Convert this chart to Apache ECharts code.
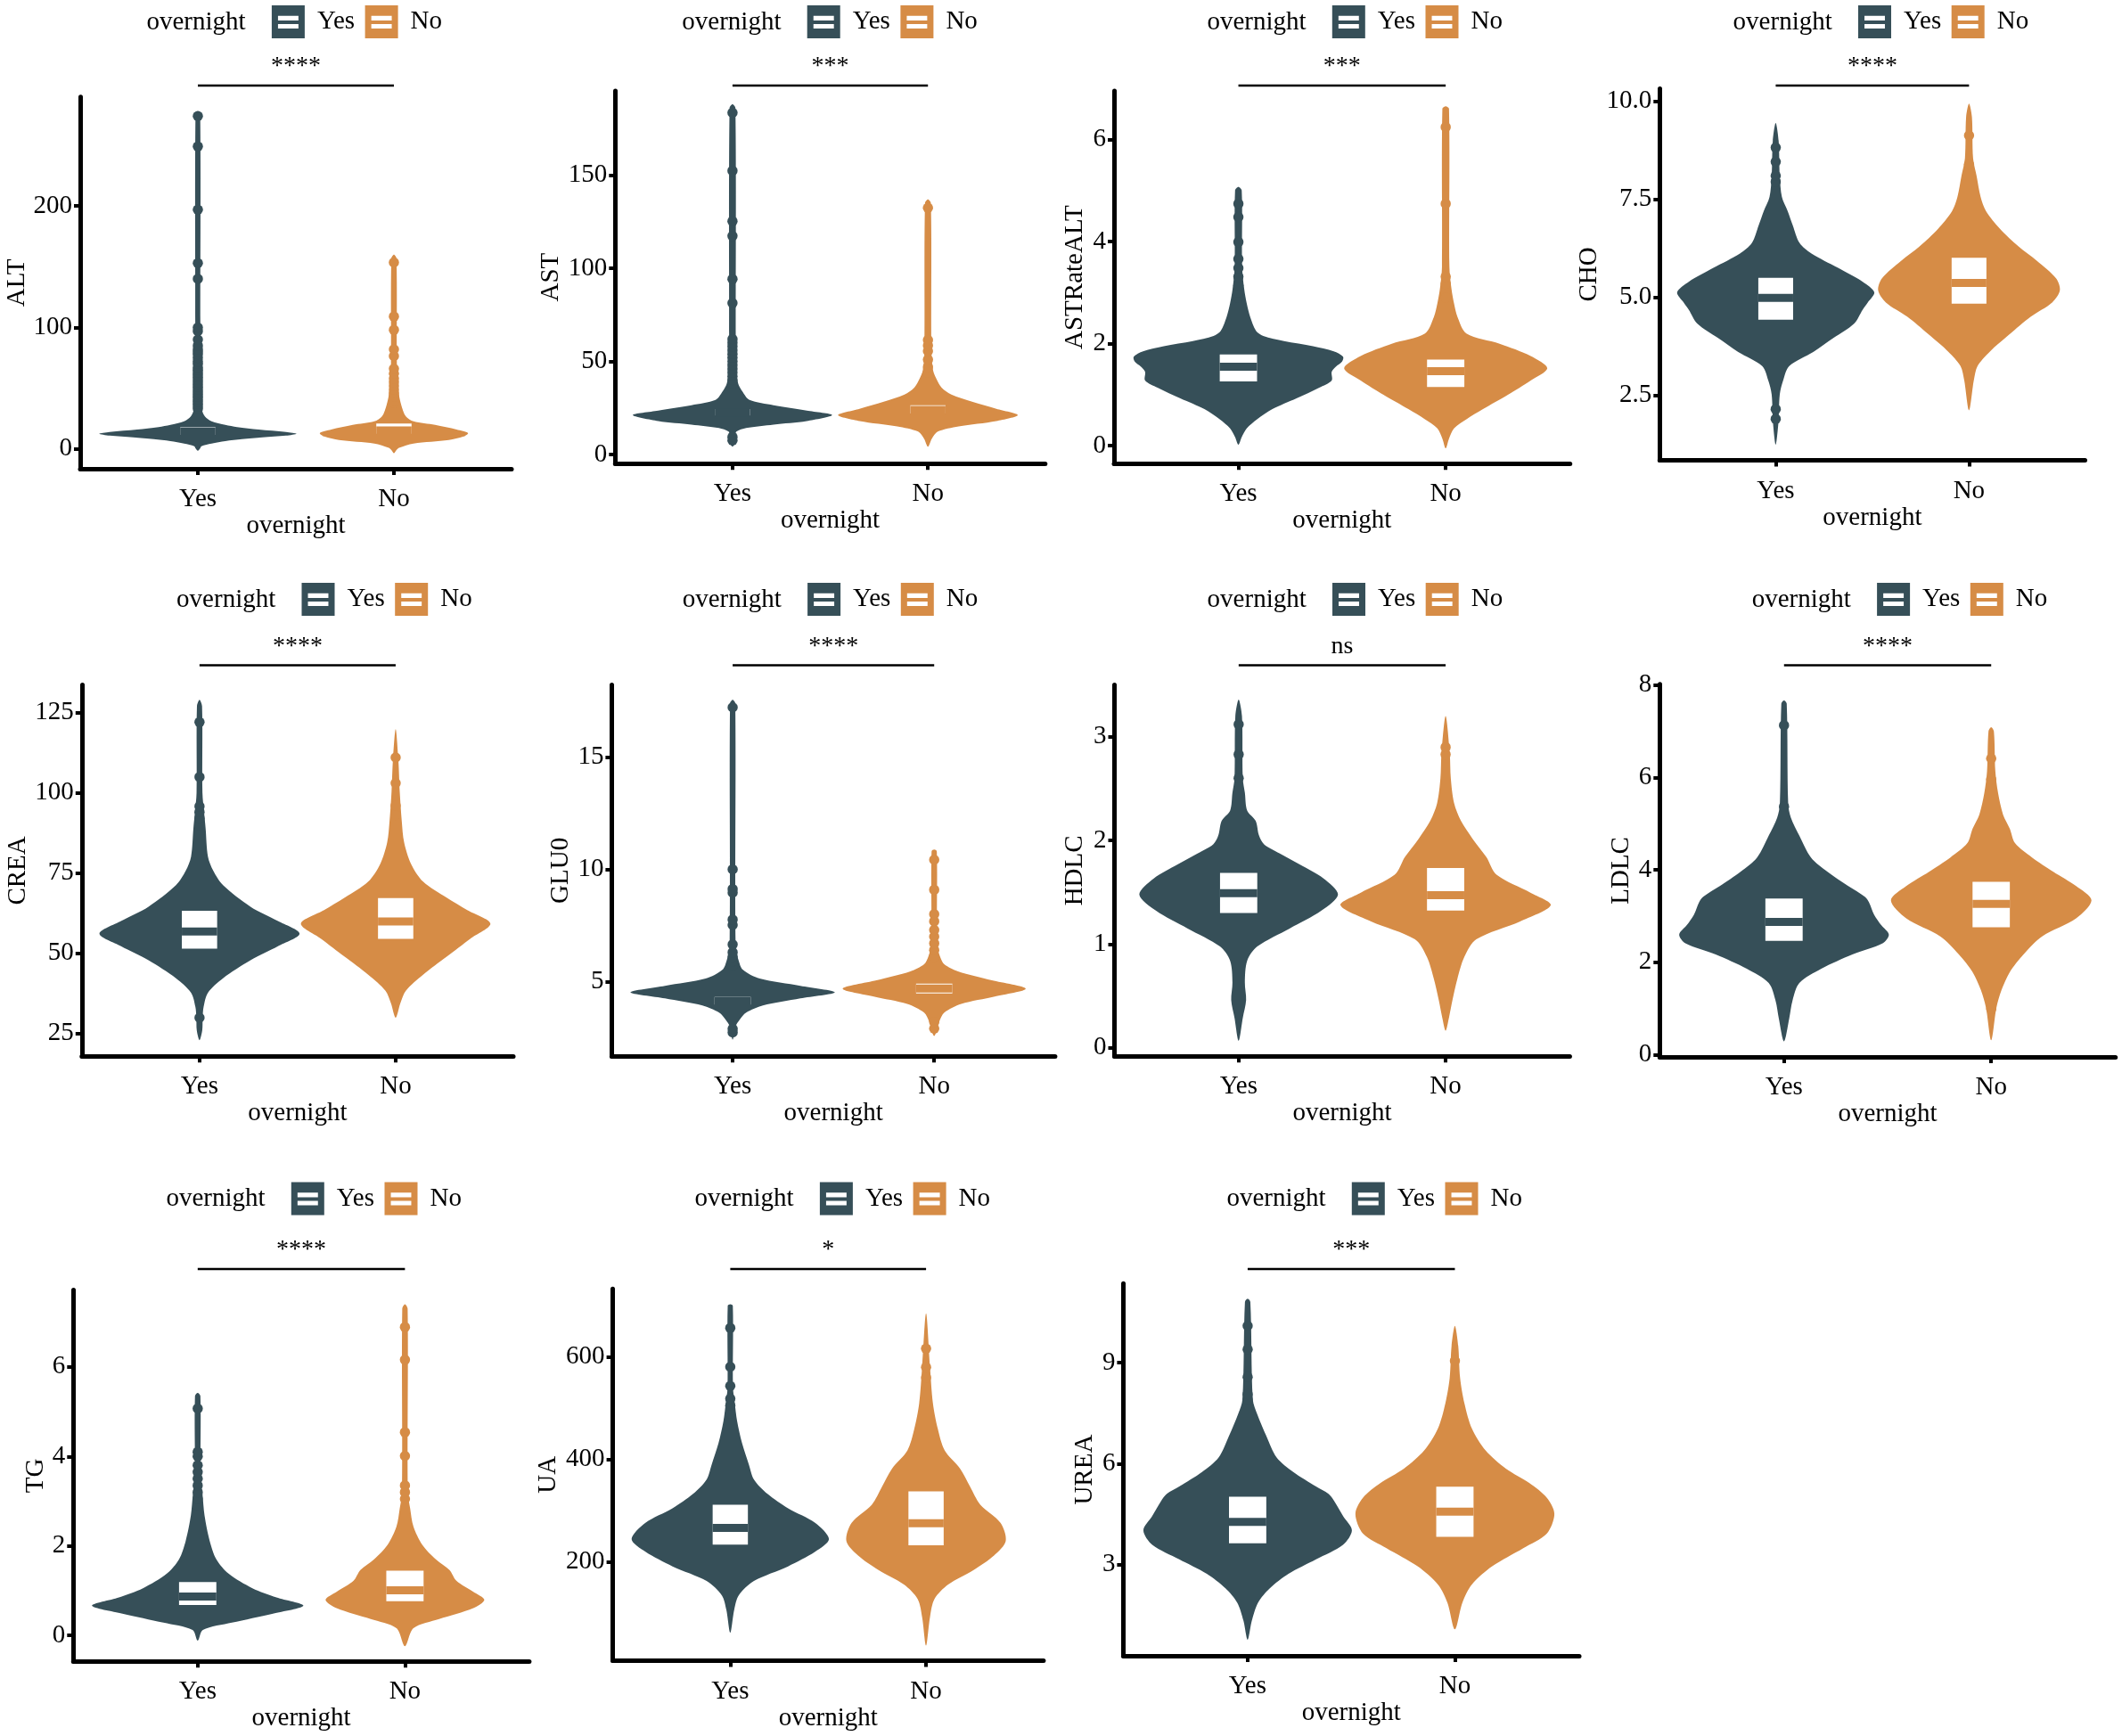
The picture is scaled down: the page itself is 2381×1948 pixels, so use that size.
<!DOCTYPE html>
<html>
<head>
<meta charset="utf-8">
<script src="https://cdn.jsdelivr.net/npm/echarts@6/dist/echarts.min.js"></script>
<style>
html, body { margin: 0; padding: 0; background: #fff; }
#chart { width: 2381px; height: 1948px; }
</style>
</head>
<body>
<div id="chart"></div>
<script>
// ---- data ----
var groups = ['Yes', 'No'];
var panelNames = ['ALT', 'AST', 'ASTRateALT', 'CHO', 'CREA', 'GLU0', 'HDLC', 'LDLC', 'TG', 'UA', 'UREA'];
var sigLabels = ['****', '***', '***', '****', '****', '****', 'ns', '****', '****', '*', '***'];
var yTicks = [[0, 100, 200], [0, 50, 100, 150], [0, 2, 4, 6], [2.5, 5, 7.5, 10], [25, 50, 75, 100, 125],
  [5, 10, 15], [0, 1, 2, 3], [0, 2, 4, 6, 8], [0, 2, 4, 6], [200, 400, 600], [3, 6, 9]];
var yRanges = [[-16.3, 289.8], [-4.9, 195.2], [-0.35, 6.95], [0.85, 10.32], [17.9, 133.6],
  [1.67, 18.22], [-0.08, 3.5], [-0.05, 8.02], [-0.58, 7.72], [7.6, 732.9], [0.29, 11.35]];

// violin outline: [value, half width in category units], bottom to top
var yesShapes = [
  [[-1.5,0],[0.5,0.012],[2.3,0.018],[4.4,0.07],[6.5,0.14],[8.1,0.225],[9.6,0.33],[11.0,0.45],[12.5,0.503],[14.0,0.45],[16.0,0.31],[18,0.2],[19.8,0.14],[22.7,0.07],[27.0,0.035],[32.8,0.02],[45,0.015],[100,0.013],[276,0.012],[278,0]],
  [[4.2,0],[6,0.012],[10,0.015],[12.3,0.02],[14.2,0.07],[16.1,0.21],[18.0,0.38],[21.2,0.51],[23.6,0.38],[26.5,0.21],[29.3,0.087],[34,0.05],[37.8,0.03],[45,0.018],[60,0.017],[186,0.015],[188,0]],
  [[0.02,0],[0.17,0.016],[0.34,0.04],[0.52,0.09],[0.72,0.164],[0.93,0.28],[1.14,0.39],[1.28,0.45],[1.45,0.45],[1.55,0.47],[1.65,0.5],[1.745,0.505],[1.85,0.46],[1.95,0.36],[2.05,0.22],[2.15,0.12],[2.25,0.085],[2.52,0.057],[2.79,0.04],[3.07,0.028],[3.5,0.018],[5.0,0.016],[5.07,0]],
  [[1.25,0],[1.81,0.014],[2.53,0.021],[2.89,0.039],[3.25,0.07],[3.61,0.194],[3.97,0.30],[4.33,0.405],[4.69,0.45],[4.87,0.476],[5.13,0.51],[5.40,0.45],[5.76,0.32],[6.12,0.185],[6.39,0.123],[6.84,0.088],[7.2,0.062],[7.56,0.032],[8.1,0.021],[9.0,0.015],[9.45,0]],
  [[22.9,0],[26,0.014],[30,0.016],[33.3,0.021],[37.7,0.043],[42.2,0.12],[47.8,0.26],[52.2,0.40],[56.1,0.51],[60,0.40],[64.5,0.26],[71.2,0.12],[75.7,0.07],[80.1,0.043],[89,0.031],[93.5,0.024],[100,0.015],[127,0.013],[129,0]],
  [[2.41,0],[3.0,0.014],[3.29,0.034],[3.61,0.067],[3.93,0.15],[4.25,0.336],[4.52,0.507],[4.81,0.336],[5.13,0.134],[5.53,0.05],[5.93,0.03],[6.5,0.015],[17.4,0.013],[17.56,0]],
  [[0.07,0],[0.29,0.02],[0.46,0.036],[0.63,0.03],[0.84,0.041],[0.978,0.09],[1.151,0.246],[1.324,0.40],[1.48,0.48],[1.635,0.41],[1.77,0.295],[1.877,0.197],[1.963,0.123],[2.05,0.098],[2.19,0.082],[2.29,0.041],[2.46,0.03],[2.6,0.02],[3.2,0.016],[3.36,0]],
  [[0.29,0],[0.78,0.025],[1.17,0.041],[1.55,0.074],[1.86,0.18],[2.17,0.33],[2.41,0.476],[2.60,0.506],[2.8,0.47],[3.03,0.435],[3.3,0.41],[3.42,0.39],[3.65,0.31],[3.96,0.21],[4.27,0.13],[4.74,0.074],[5.13,0.033],[5.44,0.02],[7.6,0.013],[7.67,0]],
  [[-0.12,0],[0.12,0.025],[0.284,0.165],[0.487,0.363],[0.665,0.51],[0.85,0.38],[1.054,0.264],[1.38,0.149],[1.70,0.09],[2.11,0.058],[2.68,0.033],[3.16,0.023],[3.5,0.014],[5.35,0.013],[5.42,0]],
  [[62,0],[106.5,0.02],[134.9,0.043],[163,0.121],[191.5,0.295],[219.8,0.433],[244.6,0.504],[276.5,0.433],[304.8,0.295],[333,0.19],[361,0.121],[390,0.095],[432,0.06],[474.7,0.035],[510,0.023],[540,0.014],[700,0.013],[703,0]],
  [[0.77,0],[1.33,0.02],[1.87,0.05],[2.3,0.107],[2.73,0.197],[3.16,0.33],[3.59,0.46],[4.02,0.503],[4.45,0.46],[4.885,0.418],[5.1,0.39],[5.32,0.33],[5.75,0.22],[6.18,0.14],[6.82,0.09],[7.47,0.046],[7.9,0.025],[10.8,0.013],[10.9,0]]
];
var noShapes = [
  [[-3.5,0],[-1,0.012],[0.9,0.026],[4.4,0.10],[7.3,0.28],[10.2,0.355],[13.1,0.378],[16.0,0.32],[19.8,0.21],[22.7,0.10],[27,0.06],[35.8,0.038],[44.5,0.026],[56,0.02],[70,0.015],[157,0.013],[160,0]],
  [[4.2,0],[8.5,0.02],[12.3,0.05],[15.1,0.157],[18,0.35],[21.2,0.46],[24.6,0.35],[28.4,0.226],[32.2,0.12],[35.9,0.07],[40.7,0.043],[45.4,0.026],[55,0.018],[135,0.015],[137,0]],
  [[-0.05,0],[0.14,0.016],[0.34,0.04],[0.52,0.1],[0.72,0.18],[1.0,0.3],[1.28,0.41],[1.52,0.49],[1.76,0.41],[2.0,0.26],[2.2,0.1],[2.52,0.057],[2.79,0.04],[3.07,0.028],[3.5,0.018],[6.6,0.016],[6.65,0]],
  [[2.12,0],[2.89,0.025],[3.25,0.044],[3.61,0.106],[4.06,0.21],[4.51,0.32],[4.87,0.43],[5.18,0.47],[5.49,0.45],[5.94,0.35],[6.3,0.256],[6.75,0.16],[7.2,0.088],[7.56,0.06],[8.1,0.039],[8.55,0.021],[9.6,0.015],[9.94,0]],
  [[29.9,0],[34.4,0.024],[38.3,0.052],[43.3,0.14],[48.9,0.26],[54.5,0.38],[59.2,0.483],[63.4,0.365],[67.3,0.26],[72.3,0.14],[77.9,0.078],[84.6,0.043],[91.3,0.031],[100.2,0.021],[110,0.014],[119.8,0]],
  [[2.57,0],[3.21,0.025],[3.61,0.05],[4.0,0.134],[4.33,0.30],[4.68,0.454],[5.05,0.286],[5.45,0.118],[5.77,0.05],[6.09,0.03],[6.6,0.015],[10.8,0.013],[10.88,0]],
  [[0.166,0],[0.29,0.016],[0.46,0.033],[0.667,0.057],[0.875,0.09],[1.047,0.148],[1.22,0.36],[1.376,0.508],[1.497,0.41],[1.67,0.246],[1.84,0.197],[2.015,0.131],[2.19,0.074],[2.36,0.041],[2.6,0.025],[2.84,0.02],[3.2,0]],
  [[0.31,0],[1.01,0.025],[1.4,0.05],[1.79,0.09],[2.17,0.156],[2.56,0.246],[2.95,0.41],[3.34,0.484],[3.65,0.41],[3.96,0.30],[4.27,0.197],[4.58,0.115],[4.89,0.09],[5.2,0.057],[5.67,0.033],[6.14,0.02],[7.0,0.013],[7.09,0]],
  [[-0.24,0],[0.16,0.041],[0.365,0.165],[0.61,0.33],[0.795,0.383],[0.973,0.33],[1.22,0.248],[1.46,0.215],[1.70,0.149],[2.03,0.083],[2.43,0.041],[2.84,0.025],[3.2,0.014],[7.3,0.013],[7.4,0]],
  [[37,0],[92.4,0.02],[127.8,0.043],[156,0.113],[184.4,0.243],[212.7,0.347],[241,0.407],[276.5,0.38],[311.9,0.277],[347,0.225],[382.7,0.173],[418,0.095],[460,0.06],[510,0.035],[581,0.02],[685,0]],
  [[1.08,0],[1.87,0.036],[2.41,0.082],[2.95,0.18],[3.49,0.33],[3.92,0.443],[4.51,0.48],[4.99,0.443],[5.42,0.36],[5.85,0.246],[6.39,0.148],[7.04,0.082],[7.79,0.046],[8.55,0.025],[9.5,0.016],[10.09,0]]
];

// single points drawn on top of the violins
var yesOutliers = [
  [33,35,37,39,41,43,45,47,49,51,53,55,57,59,61,63,65,67,70,72,75,78,80,82,85,90,97,100,140,153,197,249,274],
  [7.6,9.5,38,40,42,44,46,48,50,52,54,56,58,60,62,81.3,94.2,117.3,125.2,152.3,183.5],
  [2.9,3.0,3.14,3.31,3.48,3.66,3.99,4.48,4.74],
  [1.9,2.15,7.95,8.1,8.46,8.82],
  [29.9,90,92,94,95.8,104.9,122],
  [2.73,2.89,5.7,5.9,6.1,6.3,6.65,7.52,7.76,8.96,9.12,10.0,17.22],
  [2.6,2.83,3.12],
  [5.37,7.13],
  [2.9,3.05,3.2,3.35,3.5,3.65,3.8,4.0,4.1,5.07],
  [490,505,518.6,543.4,580.9,656.6],
  [7.9,8.06,8.57,9.39,10.09]
];
var noOutliers = [
  [38,40,43,46,49,52,55,58,62,66,76.5,82,98,109,153.5],
  [44,47,51,55.5,58.5,61.5,132.4],
  [2.9,3.17,3.31,4.74,6.24],
  [8.39,9.13],
  [93,96,103,111],
  [2.9,3.2,6.1,6.4,6.7,7.0,7.3,7.68,8.0,9.09,10.43],
  [2.83,2.9],
  [0.99,5.96,6.41],
  [3.05,3.2,3.35,4.01,4.54,6.16,6.89],
  [560,580,616.3],
  [9.05]
];

// boxes: [q1, median, q3]
var yesBoxes = [[11.5,14.1,17.8],[21,22.6,24.4],[1.26,1.55,1.79],[4.43,4.99,5.50],[51.45,56.8,63.2],[3.97,4.12,4.31],
  [1.30,1.493,1.687],[2.462,2.874,3.379],[0.681,0.868,1.192],[234,266.5,311.9],[3.636,4.271,5.014]];
var noBoxes = [[12.5,15.3,20.9],[22.0,23.9,26.4],[1.15,1.46,1.69],[4.84,5.37,6.01],[54.5,59.9,67.2],[4.47,4.69,4.91],
  [1.324,1.473,1.735],[2.757,3.262,3.744],[0.762,1.006,1.444],[232.6,275.8,338],[3.829,4.573,5.316]];

// ---- layout ----
var FONT = '"Liberation Serif", "Times New Roman", serif';
var FS = 29;
var COLORS = ['#364f58', '#d68c46'];
var BOX_HALF = 0.09;
var MEDIAN_PX = 9;
var ICON = 'path://M0,0H100V100H0Z M19,32V46H81V32Z M19,57V70H81V57Z';
// grid edges (px), legend centre, row, distance of y title from axis
var layout = [
  {l: 90, t: 108.7, r: 574, b: 526, lx: 329, row: 0, yd: 71.5},
  {l: 690.3, t: 102, r: 1172.8, b: 520.3, lx: 929.8, row: 0, yd: 73.5},
  {l: 1250, t: 102, r: 1761.7, b: 520.3, lx: 1518.9, row: 0, yd: 46},
  {l: 1862.3, t: 99.6, r: 2339.5, b: 516.4, lx: 2109.1, row: 0, yd: 81},
  {l: 91.8, t: 768.6, r: 576, b: 1185.2, lx: 362.6, row: 1, yd: 73.4},
  {l: 686.4, t: 768.6, r: 1183.9, b: 1185.2, lx: 930.2, row: 1, yd: 59.3},
  {l: 1250.5, t: 768.6, r: 1761.4, b: 1185.2, lx: 1519.1, row: 1, yd: 46},
  {l: 1862.3, t: 767.8, r: 2373.7, b: 1186, lx: 2130.2, row: 1, yd: 45.2},
  {l: 82.3, t: 1447.5, r: 593.9, b: 1864.2, lx: 350.9, row: 2, yd: 44},
  {l: 687.6, t: 1446.3, r: 1170.9, b: 1863.4, lx: 944, row: 2, yd: 73.9},
  {l: 1260.4, t: 1440.2, r: 1772, b: 1858.1, lx: 1540.9, row: 2, yd: 45.2}
];
var rowLegendTop = [6, 654, 1326.5];
var rowBracketY = [96, 746.5, 1424];

function makeViolin(shape, color) {
  return function (params, api) {
    var xc = api.value(0);
    var pts = [];
    for (var i = 0; i < shape.length; i++) {
      pts.push(api.coord([xc + shape[i][1], shape[i][0]]));
    }
    for (var j = shape.length - 2; j >= 1; j--) {
      pts.push(api.coord([xc - shape[j][1], shape[j][0]]));
    }
    return {type: 'polygon', shape: {points: pts, smooth: 0.3}, style: {fill: color}};
  };
}

function makeBox(color) {
  return function (params, api) {
    var xc = api.value(0);
    var top = api.coord([xc - BOX_HALF, api.value(3)]);
    var bot = api.coord([xc + BOX_HALF, api.value(1)]);
    var med = api.coord([xc, api.value(2)]);
    var w = bot[0] - top[0];
    return {type: 'group', children: [
      {type: 'rect', shape: {x: top[0], y: top[1], width: w, height: bot[1] - top[1]}, style: {fill: '#fff'}},
      {type: 'rect', shape: {x: top[0], y: med[1] - MEDIAN_PX / 2, width: w, height: MEDIAN_PX}, style: {fill: color}}
    ]};
  };
}

function makeBracket(i) {
  return function (params, api) {
    var yLine = rowBracketY[layout[i].row];
    var x1 = api.coord([api.value(0), yRanges[i][0]])[0];
    var x2 = api.coord([api.value(1), yRanges[i][0]])[0];
    return {type: 'group', children: [
      {type: 'line', shape: {x1: x1, y1: yLine, x2: x2, y2: yLine}, style: {stroke: '#000', lineWidth: 2.4}},
      {type: 'text', style: {text: sigLabels[i], x: (x1 + x2) / 2, y: yLine - 21, align: 'center',
        verticalAlign: 'middle', font: '28px ' + FONT, fill: '#000'}}
    ]};
  };
}

var option = {animation: false, grid: [], xAxis: [], yAxis: [], legend: [], title: [], series: []};

panelNames.forEach(function (name, i) {
  var L = layout[i];
  var dec = yTicks[i].some(function (v) { return v % 1 !== 0; }) ? 1 : 0;
  option.grid.push({left: L.l, top: L.t, width: L.r - L.l, height: L.b - L.t});
  option.xAxis.push({
    type: 'value', gridIndex: i, min: 0.4, max: 2.6,
    axisLine: {show: true, onZero: false, lineStyle: {color: '#000', width: 5}},
    axisTick: {show: true, customValues: [1, 2], length: 7, lineStyle: {color: '#000', width: 4}},
    axisLabel: {customValues: [1, 2], margin: 20, fontSize: FS, fontFamily: FONT, color: '#000',
      formatter: function (v) { return groups[Math.round(v) - 1]; }},
    splitLine: {show: false},
    name: 'overnight', nameLocation: 'middle', nameGap: 50,
    nameTextStyle: {fontSize: FS, fontFamily: FONT, color: '#000'}
  });
  option.yAxis.push({
    type: 'value', gridIndex: i, min: yRanges[i][0], max: yRanges[i][1],
    axisLine: {show: true, onZero: false, lineStyle: {color: '#000', width: 5}},
    axisTick: {show: true, customValues: yTicks[i], length: 7, lineStyle: {color: '#000', width: 4}},
    axisLabel: {customValues: yTicks[i], margin: 9, fontSize: FS, fontFamily: FONT, color: '#000',
      formatter: function (v) { return v.toFixed(dec); }},
    splitLine: {show: false},
    name: name, nameLocation: 'middle', nameGap: L.yd - 16.5,
    nameTextStyle: {fontSize: FS, fontFamily: FONT, color: '#000'}
  });
  option.title.push({
    text: 'overnight', left: L.lx - 164.5, top: rowLegendTop[L.row] + 4.5, padding: 0,
    textStyle: {fontSize: FS, fontFamily: FONT, fontWeight: 'normal', color: '#000'}
  });
  option.legend.push({
    data: groups, left: L.lx - 24.1, top: rowLegendTop[L.row], padding: 0,
    itemWidth: 37, itemHeight: 37, itemGap: 11.5, icon: ICON, selectedMode: false,
    textStyle: {fontSize: FS, fontFamily: FONT, color: '#000', padding: [0, 0, 0, 9]}
  });

  var shapes = [yesShapes[i], noShapes[i]];
  var outs = [yesOutliers[i], noOutliers[i]];
  var boxes = [yesBoxes[i], noBoxes[i]];
  groups.forEach(function (g, k) {
    var xc = k + 1;
    option.series.push({
      type: 'custom', name: g, xAxisIndex: i, yAxisIndex: i, z: 2,
      itemStyle: {color: COLORS[k]},
      data: [[xc, shapes[k][0][0]]],
      renderItem: makeViolin(shapes[k], COLORS[k])
    });
    option.series.push({
      type: 'scatter', name: g + ' points', xAxisIndex: i, yAxisIndex: i, z: 3, silent: true,
      symbolSize: 11.5, itemStyle: {color: COLORS[k], opacity: 1},
      data: outs[k].map(function (v) { return [xc, v]; })
    });
    option.series.push({
      type: 'custom', name: g + ' box', xAxisIndex: i, yAxisIndex: i, z: 4,
      data: [[xc].concat(boxes[k])],
      renderItem: makeBox(COLORS[k])
    });
  });
  option.series.push({
    type: 'custom', name: 'signif', xAxisIndex: i, yAxisIndex: i, z: 5,
    data: [[1, 2]],
    renderItem: makeBracket(i)
  });
});

var chart = echarts.init(document.getElementById('chart'));
chart.setOption(option);
</script>
</body>
</html>
